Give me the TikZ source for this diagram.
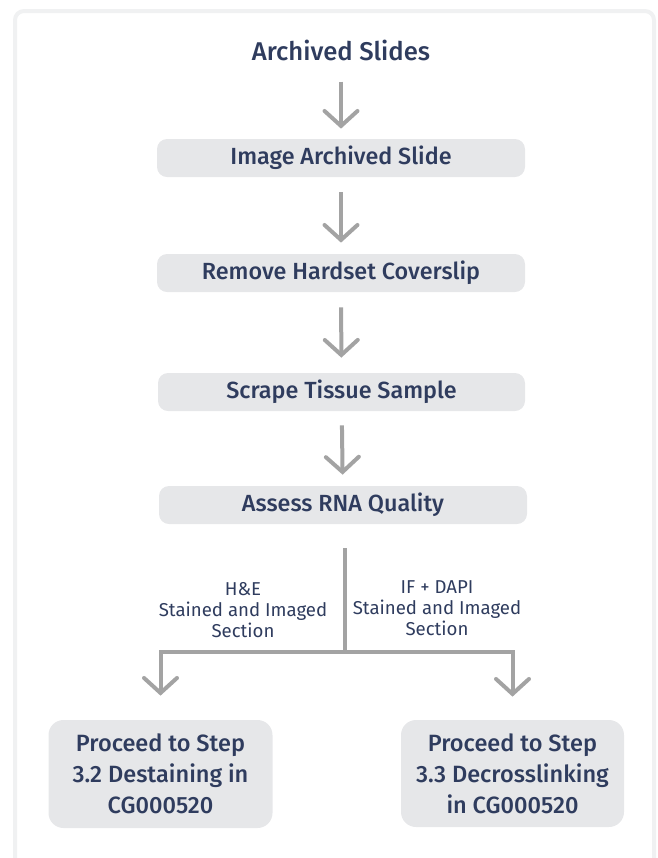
\documentclass[tikz,border=0pt]{standalone}
\usepackage{fontspec}
\setmainfont{Fira Sans}[BoldFont={Fira Sans Medium}]
\usetikzlibrary{arrows.meta}
\definecolor{navytext}{HTML}{2F3C5E}
\definecolor{boxgray}{HTML}{E6E7E9}
\definecolor{arrowgray}{HTML}{A3A3A3}
\definecolor{framegray}{HTML}{F0F1F2}
\begin{document}
\begin{tikzpicture}[
    stepbox/.style={fill=boxgray, rounded corners=0.2cm, align=center, text=navytext, font=\bfseries\fontsize{13.3}{15}\selectfont},
    endbox/.style={fill=boxgray, rounded corners=0.3cm, align=center, text=navytext, font=\bfseries\fontsize{13.4}{17.6}\selectfont},
    flow/.style={draw=arrowgray, line width=0.08cm, -{Straight Barb[length=0.3cm, width=0.66cm, line cap=round]}},
    branch/.style={align=center, text=navytext, font=\fontsize{10.6}{12}\selectfont}
]
    \useasboundingbox (0,0) rectangle (13.16,-17.16);
    \draw[framegray, line width=0.08cm, rounded corners=0.18cm] (0.3,-17.6) |- (13.08,-0.22) -- (13.08,-17.6);

    \node[align=center, text=navytext, font=\bfseries\fontsize{14.6}{17}\selectfont] (slides) at (6.82, -1.0) {Archived Slides};
    \node[stepbox, minimum width=7.36cm, minimum height=0.76cm] (image) at (6.82, -3.16) {Image Archived Slide};
    \node[stepbox, minimum width=7.36cm, minimum height=0.76cm] (remove) at (6.82, -5.46) {Remove Hardset Coverslip};
    \node[stepbox, minimum width=7.34cm, minimum height=0.76cm] (scrape) at (6.83, -7.84) {Scrape Tissue Sample};
    \node[stepbox, minimum width=7.36cm, minimum height=0.76cm] (assess) at (6.86, -10.1) {Assess RNA Quality};
    \node[endbox, minimum width=4.48cm, minimum height=2.16cm] (destain) at (3.21, -15.48) {Proceed to Step\\3.2 Destaining in\\CG000520};
    \node[endbox, minimum width=4.46cm, minimum height=2.14cm] (decross) at (10.25, -15.47) {Proceed to Step\\3.3 Decrosslinking\\in CG000520};
    \node[branch] (he) at (4.86, -12.2) {H\&E\\Stained and Imaged\\Section};
    \node[branch] (ifdapi) at (8.74, -12.16) {IF + DAPI\\Stained and Imaged\\Section};
    \coordinate (split) at (6.9, -13.04);

    \draw[flow, shorten <=0.3cm, shorten >=0.2cm] (slides) -- (image);
    \draw[flow, shorten <=0.3cm, shorten >=0.22cm] (image) -- (remove);
    \draw[flow, shorten <=0.3cm, shorten >=0.3cm] (remove) -- (scrape);
    \draw[flow, shorten <=0.28cm, shorten >=0.22cm] (scrape) -- (assess);
    \draw[arrowgray, line width=0.08cm, shorten <=0.48cm] (assess.south -| split) -- (split);
    \draw[flow, shorten >=0.48cm] (split) -| (destain);
    \draw[flow, shorten >=0.46cm] (split) -| (decross);
\end{tikzpicture}
\end{document}
